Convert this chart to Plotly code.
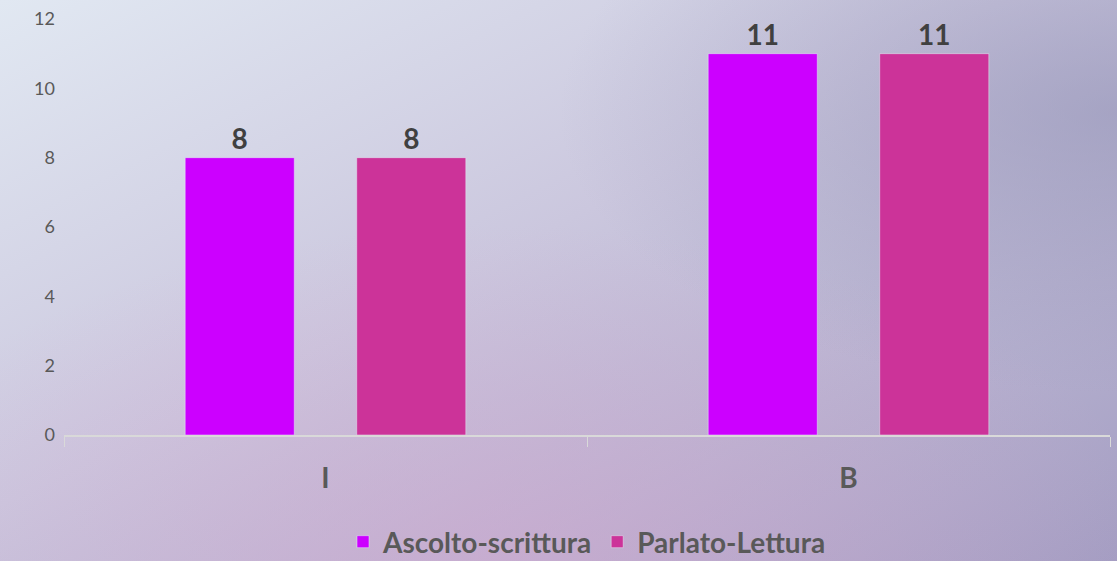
import base64

import plotly.graph_objects as go

categories = ["I", "B"]
ascolto_scrittura = [8, 11]
parlato_lettura = [8, 11]

FONT = "Lato, 'Open Sans', sans-serif"

# soft space-like backdrop: bluish top-left fading to grey-violet, pink haze at the bottom
bg_svg = """<svg xmlns='http://www.w3.org/2000/svg' width='1117' height='561'>
<defs>
<linearGradient id='g' x1='0' y1='0' x2='1' y2='1'>
<stop offset='0' stop-color='#e1e8f2'/>
<stop offset='0.45' stop-color='#cbc7de'/>
<stop offset='1' stop-color='#a39dc2'/>
</linearGradient>
<radialGradient id='p' cx='0.45' cy='1' r='0.6'>
<stop offset='0' stop-color='#d6a6cf' stop-opacity='0.5'/>
<stop offset='1' stop-color='#d6a6cf' stop-opacity='0'/>
</radialGradient>
<radialGradient id='r' cx='1' cy='0.2' r='0.5'>
<stop offset='0' stop-color='#9090b4' stop-opacity='0.55'/>
<stop offset='1' stop-color='#9090b4' stop-opacity='0'/>
</radialGradient>
</defs>
<rect width='1117' height='561' fill='url(#g)'/>
<rect width='1117' height='561' fill='url(#p)'/>
<rect width='1117' height='561' fill='url(#r)'/>
</svg>"""
bg_uri = "data:image/svg+xml;base64," + base64.b64encode(bg_svg.encode()).decode()

fig = go.Figure()
fig.add_trace(go.Bar(
    x=categories, y=ascolto_scrittura, name="Ascolto-scrittura",
    marker_color="#cc00ff",
    text=ascolto_scrittura, textposition="outside", cliponaxis=False,
    textfont=dict(size=28, color="#404040", family=FONT, weight="bold"),
))
fig.add_trace(go.Bar(
    x=categories, y=parlato_lettura, name="Parlato-Lettura",
    marker_color="#cc3399",
    text=parlato_lettura, textposition="outside", cliponaxis=False,
    textfont=dict(size=28, color="#404040", family=FONT, weight="bold"),
))

fig.update_layout(
    width=1117, height=561,
    margin=dict(l=64, r=7, t=19, b=126, autoexpand=False),
    paper_bgcolor="#c8c4da",
    plot_bgcolor="rgba(0,0,0,0)",
    barmode="group", bargap=0.344, bargroupgap=0.364,
    font=dict(family=FONT, color="#595959"),
    images=[dict(source=bg_uri, xref="paper", yref="paper",
                 x=-64 / 1046, y=1 + 19 / 416, sizex=1117 / 1046, sizey=561 / 416,
                 sizing="stretch", layer="below", xanchor="left", yanchor="top")],
    legend=dict(orientation="h", x=0.5, xanchor="center", y=-132 / 416, yanchor="bottom",
                bgcolor="rgba(0,0,0,0)",
                font=dict(size=28, color="#595959", family=FONT, weight="bold"),
                itemwidth=30, traceorder="normal"),
)

fig.update_xaxes(
    showline=True, linecolor="#d9d9d9", linewidth=1.5,
    ticks="outside", tickson="boundaries", ticklen=10, tickcolor="#d9d9d9",
    tickfont=dict(size=28, color="#595959", family=FONT, weight="bold"),
    ticklabelstandoff=18, showgrid=False,
)
fig.update_yaxes(
    range=[0, 12], dtick=2, showgrid=False, zeroline=False, showline=False,
    tickfont=dict(size=18, color="#595959", family=FONT),
    ticklabelstandoff=8,
)

fig.write_html("out.html", config={"displayModeBar": False},
               post_script="document.body.style.margin='0';")
